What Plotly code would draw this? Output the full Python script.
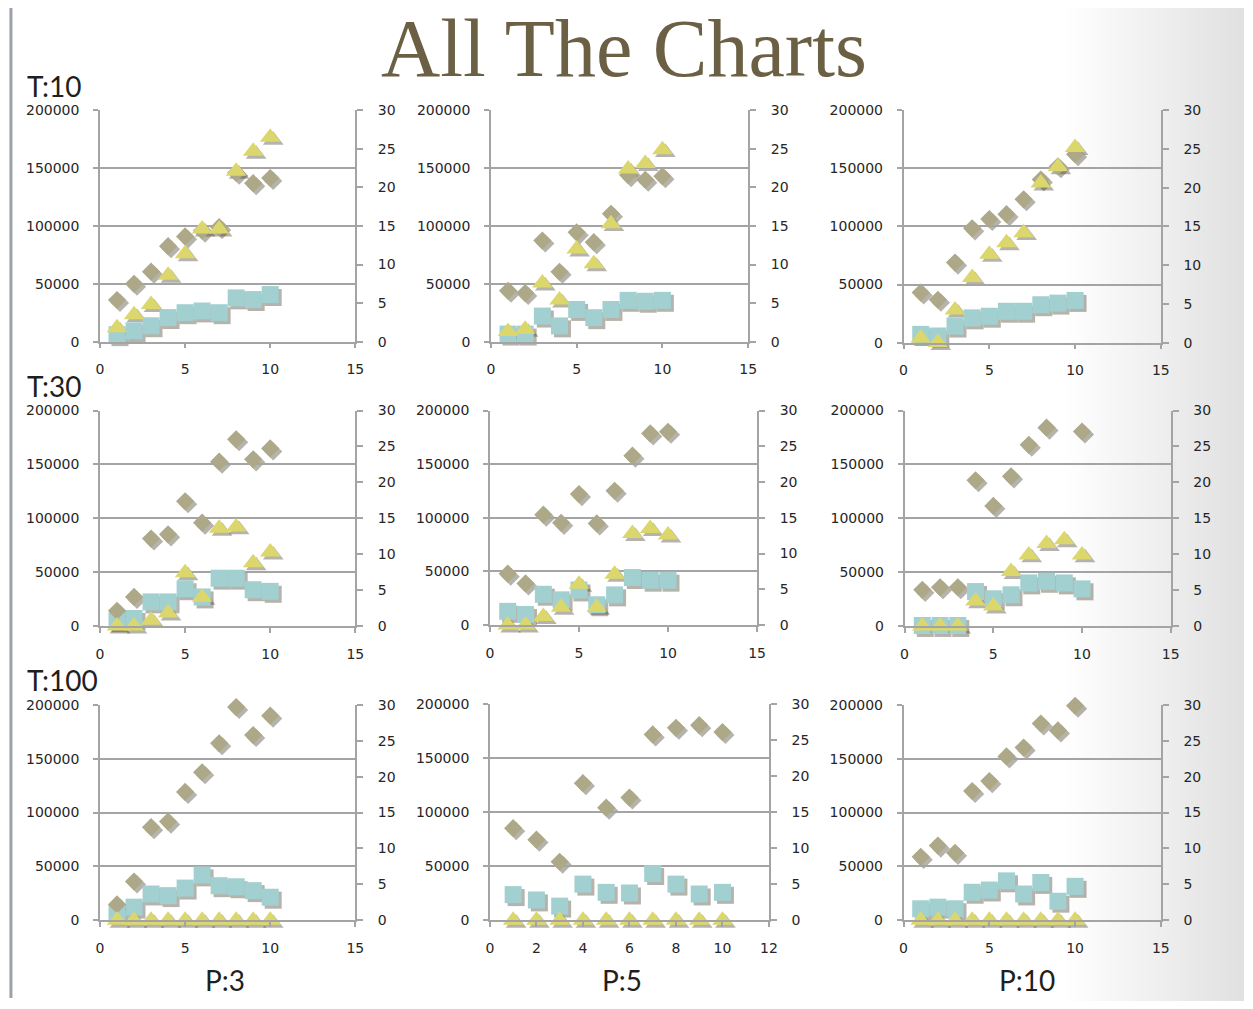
import plotly.graph_objects as go

W, H = 1253, 1009

# ---- data -------------------------------------------------------------
x_vals = [1, 2, 3, 4, 5, 6, 7, 8, 9, 10]

row_labels = ["T:10", "T:30", "T:100"]
col_labels = ["P:3", "P:5", "P:10"]

# T:10
t10_p3_diamond = [36000, 50000, 60500, 82500, 91000, 96000, 99000, 146000, 137000, 141500]
t10_p3_triangle = [1.8, 3.5, 4.8, 8.6, 11.4, 14.6, 14.6, 22.1, 24.7, 26.5]
t10_p3_square = [6000, 9400, 13700, 20800, 25000, 26500, 25000, 37800, 36400, 40700]

t10_p5_diamond = [44000, 42000, 87400, 60400, 94500, 86000, 110600, 144000, 140000, 143000]
t10_p5_triangle = [1.3, 1.6, 7.6, 5.4, 12.0, 10.1, 15.3, 22.4, 23.1, 24.9]
t10_p5_square = [6500, 6500, 22100, 13600, 27800, 20700, 27800, 35700, 34900, 35700]

t10_p10_diamond = [43100, 36900, 68900, 98400, 106400, 110600, 123400, 140400, 151800, 162300]
t10_p10_triangle = [0.6, 0.0, 4.2, 8.4, 11.4, 12.9, 14.2, 20.6, 22.7, 25.2]
t10_p10_square = [7100, 5700, 14200, 21300, 22700, 27000, 27000, 32600, 34000, 36300]

# T:30
t30_p3_diamond = [14100, 27000, 81200, 85100, 115800, 95900, 152500, 173300, 154700, 164800]
t30_p3_triangle = [0.0, 0.0, 0.8, 1.8, 7.4, 4.0, 13.6, 13.8, 8.8, 10.3]
t30_p3_square = [4900, 7000, 22400, 22400, 34600, 27000, 44400, 44400, 33700, 32200]

t30_p5_diamond = [47900, 38800, 102900, 95300, 122100, 94700, 125200, 157900, 178600, 180200]
t30_p5_triangle = [0.0, 0.0, 1.2, 2.5, 5.7, 2.5, 7.1, 12.8, 13.5, 12.6]
t30_p5_square = [12800, 9800, 28700, 23500, 32700, 18900, 28100, 44300, 41800, 41800]

t30_p10_diamond = [33600, 36000, 36000, 135300, 111500, 138900, 168200, 184100, None, 180500]
t30_p10_triangle = [0.0, 0.0, 0.0, 3.5, 2.8, 7.6, 9.9, 11.5, 12.0, 9.9]
t30_p10_square = [500, 500, 500, 32000, 25300, 29000, 40000, 41500, 40000, 34500]

# T:100
t100_p3_diamond = [14700, 36000, 86400, 91600, 119100, 137400, 164300, 197900, 171900, 189900]
t100_p3_triangle = [0, 0, 0, 0, 0, 0, 0, 0, 0, 0]
t100_p3_square = [6700, 12200, 24400, 22900, 29900, 42100, 32100, 31100, 27500, 21400]

t100_p5_diamond = [85100, 74500, 54100, 126700, 104000, 113400, 171700, 177800, 180200, 173900]
t100_p5_triangle = [0, 0, 0, 0, 0, 0, 0, 0, 0, 0]
t100_p5_square = [23700, 18800, 13100, 33400, 25800, 25200, 43200, 33400, 24300, 25800]

t100_p10_diamond = [58900, 69300, 62600, 120000, 129200, 152100, 160300, 182600, 176200, 199100]
t100_p10_triangle = [0, 0, 0, 0, 0, 0, 0, 0, 0, 0]
t100_p10_square = [10700, 12200, 10700, 26000, 28100, 36600, 24400, 35100, 17700, 31500]

panel_data = [
    (t10_p3_diamond, t10_p3_triangle, t10_p3_square),
    (t10_p5_diamond, t10_p5_triangle, t10_p5_square),
    (t10_p10_diamond, t10_p10_triangle, t10_p10_square),
    (t30_p3_diamond, t30_p3_triangle, t30_p3_square),
    (t30_p5_diamond, t30_p5_triangle, t30_p5_square),
    (t30_p10_diamond, t30_p10_triangle, t30_p10_square),
    (t100_p3_diamond, t100_p3_triangle, t100_p3_square),
    (t100_p5_diamond, t100_p5_triangle, t100_p5_square),
    (t100_p10_diamond, t100_p10_triangle, t100_p10_square),
]

# ---- geometry (pixel boxes of each plot area) ---------------------------
# (left, right, top, bottom, x max, x tick step)
boxes = [
    (97, 355, 104, 339, 15, 5), (492, 752, 104, 339, 15, 5), (909, 1169, 104, 340, 15, 5),
    (97, 355, 409, 628, 15, 5), (491, 761, 409, 627, 15, 5), (910, 1179, 409, 628, 15, 5),
    (97, 355, 708, 927, 15, 5), (491, 773, 707, 927, 12, 2), (909, 1169, 708, 927, 15, 5),
]

DIAMOND = "#aca888"
TRIANGLE = "#dcd76c"
SQUARE = "#a2d0d0"
SHADOW = "rgba(70,66,45,0.40)"
AXIS = "#a4a4a4"
TICK_FONT = dict(family="DejaVu Sans", size=14, color="#262626")
SHIFT = 3  # shadow offset in px


def key(letter, n):
    return f"{letter}axis" if n == 1 else f"{letter}axis{n}"


def ref(letter, n):
    return letter if n == 1 else f"{letter}{n}"


fig = go.Figure()
layout_axes = {}


def add_marks(k, xa, yl, yr, shadow):
    d, t, s = panel_data[k]
    specs = [
        (s, "square", 17, SQUARE, yl),
        (d, "diamond", 14, DIAMOND, yl),
        (t, "triangle-up", 18, TRIANGLE, yr),
    ]
    for vals, sym, size, col, yax in specs:
        fig.add_trace(go.Scatter(
            x=x_vals, y=vals, mode="markers", cliponaxis=False,
            xaxis=ref("x", xa), yaxis=ref("y", yax),
            marker=dict(symbol=sym, size=size,
                        color=SHADOW if shadow else col,
                        line=dict(width=0)),
            showlegend=False, hoverinfo="skip" if shadow else "x+y",
        ))


# shadow layers first (lower axis ids are drawn underneath)
for k, (l, r, t, b, xmax, xdt) in enumerate(boxes):
    xa, yl, yr = k + 1, 2 * k + 1, 2 * k + 2
    layout_axes[key("x", xa)] = dict(
        domain=[(l + SHIFT) / W, (r + SHIFT) / W], range=[0, xmax],
        anchor=ref("y", yl), visible=False, fixedrange=True)
    layout_axes[key("y", yl)] = dict(
        domain=[1 - (b + SHIFT) / H, 1 - (t + SHIFT) / H], range=[0, 200000],
        anchor=ref("x", xa), visible=False, fixedrange=True)
    layout_axes[key("y", yr)] = dict(
        overlaying=ref("y", yl), side="right", range=[0, 30],
        anchor=ref("x", xa), visible=False, fixedrange=True)
    add_marks(k, xa, yl, yr, True)

# visible charts
for k, (l, r, t, b, xmax, xdt) in enumerate(boxes):
    xa, yl, yr = 9 + k + 1, 18 + 2 * k + 1, 18 + 2 * k + 2
    layout_axes[key("x", xa)] = dict(
        domain=[l / W, r / W], range=[0, xmax], dtick=xdt, tick0=0,
        anchor=ref("y", yl), showline=True, linecolor=AXIS, linewidth=1.5,
        ticks="outside", ticklen=5, tickcolor=AXIS, tickwidth=1.5,
        showgrid=False, zeroline=False, tickfont=TICK_FONT,
        ticklabelstandoff=9, fixedrange=True)
    layout_axes[key("y", yl)] = dict(
        domain=[1 - b / H, 1 - t / H], range=[0, 200000], dtick=50000, tick0=0,
        tickformat="d", anchor=ref("x", xa), showline=True, linecolor=AXIS,
        linewidth=1.5, ticks="outside", ticklen=5, tickcolor=AXIS, tickwidth=1.5,
        showgrid=True, gridcolor=AXIS, gridwidth=1.5, zeroline=False,
        tickfont=TICK_FONT, ticklabelstandoff=11, fixedrange=True)
    layout_axes[key("y", yr)] = dict(
        overlaying=ref("y", yl), side="right", range=[0, 30], dtick=5, tick0=0,
        anchor=ref("x", xa), showline=True, linecolor=AXIS, linewidth=1.5,
        ticks="outside", ticklen=6, tickcolor=AXIS, tickwidth=1.5,
        showgrid=False, zeroline=False, tickfont=TICK_FONT,
        ticklabelstandoff=12, fixedrange=True)
    add_marks(k, xa, yl, yr, False)

# ---- page decoration ---------------------------------------------------
shapes = []
# soft grey shading toward the right edge of the slide
for i in range(30):
    shapes.append(dict(type="rect", xref="paper", yref="paper",
                       x0=(1253 - 6 * (i + 1)) / W, x1=1, y0=0, y1=1,
                       fillcolor="rgba(110,110,110,0.007)", line=dict(width=0),
                       layer="below"))
# vertical rule at the left edge
shapes.append(dict(type="line", xref="paper", yref="paper",
                   x0=7 / W, x1=7 / W, y0=1 - 1006 / H, y1=1,
                   line=dict(color="#9ba1ab", width=3)))

annotations = [dict(text="All The Charts", xref="paper", yref="paper",
                    x=626 / W, y=1 - 41 / H, xanchor="center", yanchor="middle",
                    showarrow=False,
                    font=dict(family="Liberation Serif", size=82, color="#6b5f44"))]

row_bottom = [99, 403, 702]
for lab, yy in zip(row_labels, row_bottom):
    annotations.append(dict(text=lab, xref="paper", yref="paper",
                            x=21 / W, y=1 - yy / H, xanchor="left", yanchor="bottom",
                            showarrow=False,
                            font=dict(family="Lato", size=28, color="#1f1f1f")))

col_x = [223, 624, 1034]
for lab, xx in zip(col_labels, col_x):
    annotations.append(dict(text=lab, xref="paper", yref="paper",
                            x=xx / W, y=1 - 988 / H, xanchor="center", yanchor="middle",
                            showarrow=False,
                            font=dict(family="Lato", size=28, color="#1f1f1f")))

fig.update_layout(
    width=W, height=H, margin=dict(l=0, r=0, t=0, b=0),
    paper_bgcolor="white", plot_bgcolor="rgba(0,0,0,0)",
    showlegend=False, shapes=shapes, annotations=annotations,
    **layout_axes,
)

fig.write_html("out.html", config={"displayModeBar": False})
